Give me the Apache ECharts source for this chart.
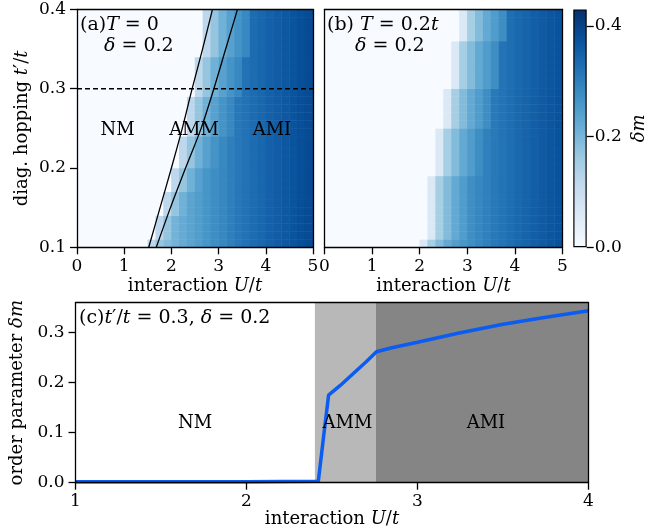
<!DOCTYPE html>
<html>
<head>
<meta charset="utf-8">
<script src="https://cdn.jsdelivr.net/npm/echarts@6/dist/echarts.min.js"></script>
<style>
  html, body { margin: 0; padding: 0; background: #fff; }
  #chart { width: 670px; height: 531px; }
</style>
</head>
<body>
<div id="chart"></div>
<script>
// heatmaps (a),(b): 30 x 30 cells, U/t from 0 to 5, t'/t from 0.1 to 0.4
var uCells = 30, tCells = 30;
// first ordered column of every row, bottom row first
var onsetA = [9,10,10,10,11,11,11,12,12,12,13,13,13,13,14,14,14,14,14,15,15,15,15,15,16,16,16,16,16,16];
var onsetB = [12,13,13,13,13,13,13,13,13,14,14,14,14,14,14,15,15,15,15,15,16,16,16,16,16,16,17,17,17,17];
// delta m per column deep in the ordered phase
var bulkA = [0,0,0,0,0,0,0,0,0,0.160,0.175,0.190,0.205,0.220,0.235,0.248,0.262,0.275,0.287,0.300,0.311,0.321,0.331,0.340,0.349,0.357,0.365,0.372,0.379,0.386];
var bulkB = [0,0,0,0,0,0,0,0,0,0,0,0,0.190,0.200,0.215,0.230,0.245,0.260,0.273,0.286,0.298,0.309,0.319,0.328,0.337,0.345,0.353,0.361,0.368,0.375];
// delta m of the first cells right of the boundary
var edgeA = [0.12, 0.17, 0.21, 0.24, 0.265, 0.285];
var edgeB = [0.06, 0.15, 0.19, 0.225, 0.25, 0.275];

// phase boundaries in (a)
var boundT = [0.1, 0.15, 0.2, 0.25, 0.3, 0.35, 0.4];
var boundLeftU = [1.52, 1.76, 2.00, 2.23, 2.44, 2.66, 2.87];
var boundRightU = [1.68, 1.98, 2.30, 2.63, 2.90, 3.15, 3.40];
var cutT = 0.3;

// panel (c): cut at t'/t = 0.3
var cutU = [1.0, 1.5, 2.0, 2.42, 2.45, 2.48, 2.55, 2.62, 2.70, 2.76, 2.85, 3.0, 3.25, 3.5, 3.75, 4.0];
var cutDm = [0.002, 0.002, 0.002, 0.003, 0.09, 0.175, 0.195, 0.217, 0.242, 0.262, 0.270, 0.281, 0.300, 0.317, 0.331, 0.344];
var ammStart = 2.40, amiStart = 2.757, uEnd = 4;

var blues = ['#f7fbff','#deebf7','#c6dbef','#9ecae1','#6baed6','#4292c6','#2171b5','#08519c','#08306b'];
var dmMax = 0.43;

var serif = 'DejaVu Serif';

function buildCells(onset, bulk, edge) {
    var out = [];
    for (var r = 0; r < tCells; r++) {
        for (var c = 0; c < uCells; c++) {
            var v = 0;
            if (c >= onset[r]) {
                var k = c - onset[r];
                v = k < edge.length ? Math.min(edge[k], bulk[c]) : bulk[c];
            }
            out.push([c, r, v]);
        }
    }
    return out;
}
function pairs(xs, ys) {
    var out = [];
    for (var i = 0; i < xs.length; i++) out.push([xs[i], ys[i]]);
    return out;
}
var catsU = [], catsT = [];
for (var i = 0; i < uCells; i++) catsU.push('u' + i);
for (var j = 0; j < tCells; j++) catsT.push('t' + j);

function rich(size) {
    return {
        n: { fontFamily: serif, fontSize: size, color: '#000', fill: '#000' },
        i: { fontFamily: serif, fontSize: size, fontStyle: 'italic', color: '#000', fill: '#000' }
    };
}
var black = { color: '#000', width: 1.3 };
var tickFont = { fontFamily: serif, fontSize: 17, color: '#000' };
var regionLabel = {
    show: true, position: 'inside', formatter: '{b}',
    fontFamily: serif, fontSize: 18, color: '#000', textBorderWidth: 0, opacity: 1
};

function borderAxis(grid, type, pos, extra) {
    var a = {
        gridIndex: grid, type: type, position: pos, z: 5,
        axisLine: { show: true, onZero: false, lineStyle: black },
        axisTick: { show: false }, axisLabel: { show: false }, splitLine: { show: false }
    };
    return Object.assign(a, extra || {});
}

var chart = echarts.init(document.getElementById('chart'));
var option = {
    animation: false,
    backgroundColor: '#fff',
    grid: [
        { left: 77, top: 9.4, width: 236, height: 237.9, outerBoundsMode: 'none' },
        { left: 324.5, top: 9.4, width: 238, height: 237.9, outerBoundsMode: 'none' },
        { left: 75.5, top: 302.7, width: 513, height: 180, outerBoundsMode: 'none' },
        { left: 573.3, top: 9.4, width: 13.4, height: 237.9, outerBoundsMode: 'none' }
    ],
    visualMap: {
        type: 'continuous', show: false, min: 0, max: dmMax,
        seriesIndex: [0, 1], inRange: { color: blues }
    },
    xAxis: [
        borderAxis(0, 'category', 'top', { data: catsU }),
        {
            gridIndex: 0, type: 'value', position: 'bottom', min: 0, max: 5, interval: 1, z: 5,
            axisLine: { show: true, onZero: false, lineStyle: black },
            axisTick: { show: true, inside: false, length: 7, lineStyle: black },
            axisLabel: Object.assign({ margin: 11 }, tickFont),
            splitLine: { show: false },
            name: '{n|interaction }{i|U}{n|/}{i|t}', nameLocation: 'middle', nameGap: 30,
            nameTextStyle: { rich: rich(18) }
        },
        borderAxis(1, 'category', 'top', { data: catsU }),
        {
            gridIndex: 1, type: 'value', position: 'bottom', min: 0, max: 5, interval: 1, z: 5,
            axisLine: { show: true, onZero: false, lineStyle: black },
            axisTick: { show: true, inside: false, length: 7, lineStyle: black },
            axisLabel: Object.assign({ margin: 11 }, tickFont),
            splitLine: { show: false },
            name: '{n|interaction }{i|U}{n|/}{i|t}', nameLocation: 'middle', nameGap: 30,
            nameTextStyle: { rich: rich(18) }
        },
        {
            gridIndex: 2, type: 'value', position: 'bottom', min: 1, max: uEnd, interval: 1, z: 5,
            axisLine: { show: true, onZero: false, lineStyle: black },
            axisTick: { show: true, inside: false, length: 7, lineStyle: black },
            axisLabel: Object.assign({ margin: 10 }, tickFont),
            splitLine: { show: false },
            name: '{n|interaction }{i|U}{n|/}{i|t}', nameLocation: 'middle', nameGap: 27,
            nameTextStyle: { rich: rich(18) }
        },
        borderAxis(2, 'value', 'top', { min: 1, max: uEnd }),
        { gridIndex: 3, type: 'category', data: ['cb'], show: false }
    ],
    yAxis: [
        borderAxis(0, 'category', 'right', { data: catsT }),
        {
            gridIndex: 0, type: 'value', position: 'left', min: 0.1, max: 0.4, interval: 0.1, z: 5,
            axisLine: { show: true, onZero: false, lineStyle: black },
            axisTick: { show: true, inside: false, length: 7, lineStyle: black },
            axisLabel: Object.assign({ margin: 11, formatter: function (v) { return v.toFixed(1); } }, tickFont),
            splitLine: { show: false },
            name: '{n|diag. hopping }{i|t}{n|\u2032/}{i|t}', nameLocation: 'middle', nameGap: 46, nameRotate: 90,
            nameTextStyle: { rich: rich(18) }
        },
        borderAxis(1, 'category', 'right', { data: catsT }),
        borderAxis(1, 'value', 'left', { min: 0.1, max: 0.4 }),
        {
            gridIndex: 2, type: 'value', position: 'left', min: 0, max: 0.36, z: 5,
            axisLine: { show: true, onZero: false, lineStyle: black },
            axisTick: { show: true, inside: false, length: 7, lineStyle: black, customValues: [0, 0.1, 0.2, 0.3] },
            axisLabel: Object.assign({ margin: 11, customValues: [0, 0.1, 0.2, 0.3], formatter: function (v) { return v.toFixed(1); } }, tickFont),
            splitLine: { show: false },
            name: '{n|order parameter }{i|\u03b4m}', nameLocation: 'middle', nameGap: 46, nameRotate: 90,
            nameTextStyle: { rich: rich(18) }
        },
        borderAxis(2, 'value', 'right', { min: 0, max: 0.36 }),
        {
            gridIndex: 3, type: 'value', position: 'right', min: 0, max: dmMax, z: 5,
            axisLine: { show: false },
            axisTick: { show: true, inside: false, length: 7, lineStyle: black, customValues: [0, 0.2, 0.4] },
            axisLabel: Object.assign({ margin: 8, customValues: [0, 0.2, 0.4], formatter: function (v) { return v.toFixed(1); } }, tickFont),
            splitLine: { show: false },
            name: '{i|\u03b4m}', nameLocation: 'middle', nameGap: 44, nameRotate: 90,
            nameTextStyle: { rich: rich(18) }
        }
    ],
    series: [
        {
            type: 'heatmap', xAxisIndex: 0, yAxisIndex: 0, z: 1,
            data: buildCells(onsetA, bulkA, edgeA)
        },
        {
            type: 'heatmap', xAxisIndex: 2, yAxisIndex: 2, z: 1,
            data: buildCells(onsetB, bulkB, edgeB)
        },
        {
            type: 'line', xAxisIndex: 1, yAxisIndex: 1, z: 3, symbol: 'none', smooth: 0.3,
            lineStyle: { color: '#000', width: 1.3 }, data: pairs(boundLeftU, boundT)
        },
        {
            type: 'line', xAxisIndex: 1, yAxisIndex: 1, z: 3, symbol: 'none', smooth: 0.3,
            lineStyle: { color: '#000', width: 1.3 }, data: pairs(boundRightU, boundT)
        },
        {
            type: 'line', xAxisIndex: 1, yAxisIndex: 1, z: 3, symbol: 'none',
            lineStyle: { color: '#000', width: 1.6, type: [5, 3] }, data: [[0, cutT], [5, cutT]]
        },
        {
            type: 'scatter', xAxisIndex: 1, yAxisIndex: 1, z: 4, symbolSize: 0,
            itemStyle: { color: '#000' }, label: regionLabel,
            data: [
                { name: 'NM', value: [0.86, 0.248] },
                { name: 'AMM', value: [2.48, 0.248] },
                { name: 'AMI', value: [4.13, 0.248] }
            ]
        },
        {
            type: 'line', xAxisIndex: 4, yAxisIndex: 4, z: 3, symbol: 'none',
            lineStyle: { color: '#0b5cf0', width: 3.5 }, data: pairs(cutU, cutDm),
            markArea: {
                silent: true,
                data: [
                    [{ xAxis: ammStart, itemStyle: { color: '#b8b8b8' } }, { xAxis: amiStart }],
                    [{ xAxis: amiStart, itemStyle: { color: '#858585' } }, { xAxis: uEnd }]
                ]
            }
        },
        {
            type: 'scatter', xAxisIndex: 4, yAxisIndex: 4, z: 4, symbolSize: 0,
            itemStyle: { color: '#000' }, label: regionLabel,
            data: [
                { name: 'NM', value: [1.70, 0.119] },
                { name: 'AMM', value: [2.59, 0.119] },
                { name: 'AMI', value: [3.40, 0.119] }
            ]
        },
        {
            type: 'bar', xAxisIndex: 6, yAxisIndex: 6, barWidth: '100%', z: 2,
            data: [dmMax],
            itemStyle: {
                borderColor: '#000', borderWidth: 1.2,
                color: new echarts.graphic.LinearGradient(0, 1, 0, 0, blues.map(function (c, k) {
                    return { offset: k / (blues.length - 1), color: c };
                }))
            }
        }
    ],
    graphic: [
        { type: 'text', x: 80, y: 25, z: 10, style: { text: '{n|(a)}{i|T}{n| = 0}', rich: rich(19), verticalAlign: 'middle' } },
        { type: 'text', x: 104, y: 46, z: 10, style: { text: '{i|\u03b4}{n| = 0.2}', rich: rich(19), verticalAlign: 'middle' } },
        { type: 'text', x: 327, y: 25, z: 10, style: { text: '{n|(b) }{i|T}{n| = 0.2}{i|t}', rich: rich(19), verticalAlign: 'middle' } },
        { type: 'text', x: 355, y: 46, z: 10, style: { text: '{i|\u03b4}{n| = 0.2}', rich: rich(19), verticalAlign: 'middle' } },
        { type: 'text', x: 79, y: 318, z: 10, style: { text: '{n|(c)}{i|t}{n|\u2032/}{i|t}{n| = 0.3, }{i|\u03b4}{n| = 0.2}', rich: rich(19), verticalAlign: 'middle' } }
    ]
};
chart.setOption(option);
</script>
</body>
</html>
